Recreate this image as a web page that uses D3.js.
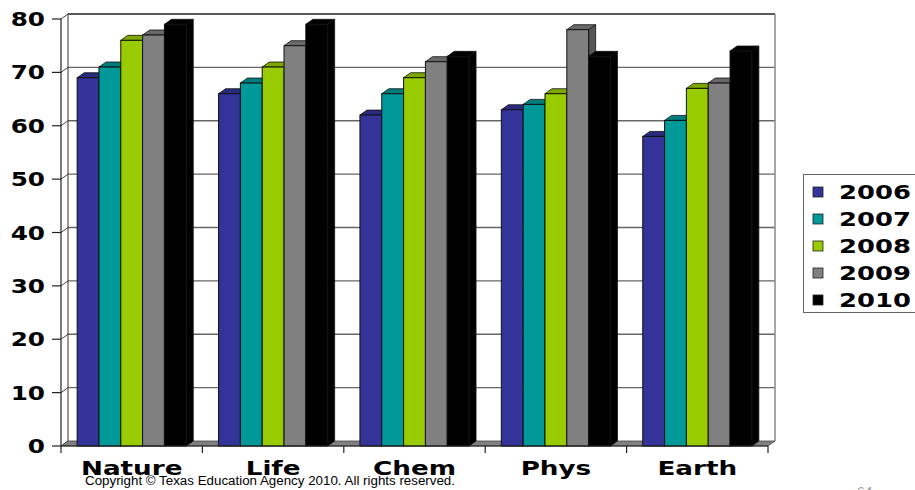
<!DOCTYPE html>
<html>
<head>
<meta charset="utf-8">
<script src="https://cdn.jsdelivr.net/npm/d3@7"></script>
<style>
  html, body { margin: 0; padding: 0; background: #fff; }
  svg { display: block; }
</style>
</head>
<body>
<svg id="chart" width="915" height="490"></svg>
<script>
// Passing rates by course, 2006-2010
const categories = ["Nature", "Life", "Chem", "Phys", "Earth"];
const years = ["2006", "2007", "2008", "2009", "2010"];
const yearColors = ["#333399", "#009999", "#99cc00", "#808080", "#000000"];
const values2006 = [69, 66, 62, 63, 58];
const values2007 = [71, 68, 66, 64, 61];
const values2008 = [76, 71, 69, 66, 67];
const values2009 = [77, 75, 72, 78, 68];
const values2010 = [79, 79, 73, 73, 74];
const yTicks = [0, 10, 20, 30, 40, 50, 60, 70, 80];

const series = [values2006, values2007, values2008, values2009, values2010];

const svg = d3.select("#chart");

// 3D depth offset of the back wall relative to the front plane
const DX = 7, DY = -5;
const left = 61, right = 768, baseY = 446, topY = 19;

const x0 = d3.scaleBand().domain(categories).range([left, right]).padding(0);
const x1 = d3.scaleBand().domain(years).range([0, x0.bandwidth()])
  .paddingInner(0).paddingOuter(0.74);
const y = d3.scaleLinear().domain([0, 80]).range([baseY, topY]);
const color = d3.scaleOrdinal().domain(years).range(yearColors);

// stretched bold text helper
function boldText(g, txt, x, yy, anchor, size, sx) {
  return g.append("text")
    .attr("transform", `translate(${x},${yy}) scale(${sx},1)`)
    .attr("text-anchor", anchor)
    .attr("font-family", "DejaVu Sans, Verdana, sans-serif")
    .attr("font-weight", "bold")
    .attr("font-size", size)
    .attr("fill", "#000")
    .text(txt);
}

// back wall
const wall = svg.append("g");
wall.append("rect")
  .attr("x", left + DX).attr("y", topY + DY)
  .attr("width", right - left).attr("height", baseY - topY)
  .attr("fill", "#fff");

// gridlines on the back wall and the left side wall
yTicks.forEach(t => {
  const yy = y(t);
  if (t > 0) {
    wall.append("line")
      .attr("x1", left + DX).attr("x2", right + DX)
      .attr("y1", yy + DY).attr("y2", yy + DY)
      .attr("stroke", t === 80 ? "#222" : "#666").attr("stroke-width", 1.3);
  }
  wall.append("line")
    .attr("x1", left).attr("x2", left + DX)
    .attr("y1", yy).attr("y2", yy + DY)
    .attr("stroke", "#444").attr("stroke-width", 1);
});
// wall right edge and left edges
wall.append("line")
  .attr("x1", right + DX).attr("x2", right + DX)
  .attr("y1", topY + DY).attr("y2", baseY + DY)
  .attr("stroke", "#888").attr("stroke-width", 1.5);
wall.append("line")
  .attr("x1", left + DX).attr("x2", left + DX)
  .attr("y1", topY + DY).attr("y2", baseY + DY)
  .attr("stroke", "#333").attr("stroke-width", 1);

// floor
svg.append("path")
  .attr("d", `M${left},${baseY} L${right},${baseY} L${right + DX},${baseY + DY} L${left + DX},${baseY + DY} Z`)
  .attr("fill", "#808080").attr("stroke", "#444").attr("stroke-width", 0.8);

// bars
const bars = svg.append("g");
categories.forEach((cat, ci) => {
  years.forEach((yr, si) => {
    const v = series[si][ci];
    const bx = x0(cat) + x1(yr);
    const bw = x1.bandwidth();
    const yt = y(v);
    const base = d3.color(color(yr));
    const sideCol = d3.color(yr === "2010" ? "#000" : base.darker(1.1)).formatHex();
    const topCol = d3.color(yr === "2010" ? "#000" : base.darker(0.55)).formatHex();
    const edge = "#111";
    // side face
    bars.append("path")
      .attr("d", `M${bx + bw},${yt} L${bx + bw + DX},${yt + DY} L${bx + bw + DX},${baseY + DY} L${bx + bw},${baseY} Z`)
      .attr("fill", sideCol).attr("stroke", edge).attr("stroke-width", 0.8);
    // top face
    bars.append("path")
      .attr("d", `M${bx},${yt} L${bx + DX},${yt + DY} L${bx + bw + DX},${yt + DY} L${bx + bw},${yt} Z`)
      .attr("fill", topCol).attr("stroke", edge).attr("stroke-width", 0.8);
    // front face
    bars.append("rect")
      .attr("x", bx).attr("y", yt)
      .attr("width", bw).attr("height", baseY - yt)
      .attr("fill", base.formatHex()).attr("stroke", edge).attr("stroke-width", 1);
  });
});

// front axes
const axes = svg.append("g");
axes.append("line")
  .attr("x1", left).attr("x2", left).attr("y1", topY).attr("y2", baseY)
  .attr("stroke", "#222").attr("stroke-width", 1.2);
axes.append("line")
  .attr("x1", left).attr("x2", right).attr("y1", baseY).attr("y2", baseY)
  .attr("stroke", "#222").attr("stroke-width", 1.2);
yTicks.forEach(t => {
  axes.append("line")
    .attr("x1", left - 9).attr("x2", left).attr("y1", y(t)).attr("y2", y(t))
    .attr("stroke", "#222").attr("stroke-width", 1.2);
  boldText(axes, String(t), 45, y(t) + 7, "end", 19, 1.3);
});
const catTicks = categories.map(c => x0(c)).concat([right]);
catTicks.forEach(tx => {
  axes.append("line")
    .attr("x1", tx).attr("x2", tx).attr("y1", baseY).attr("y2", baseY + 7)
    .attr("stroke", "#222").attr("stroke-width", 1.2);
});
categories.forEach(c => {
  boldText(axes, c, x0(c) + x0.bandwidth() / 2, 475, "middle", 19, 1.38);
});

// legend
const legend = svg.append("g");
legend.append("rect")
  .attr("x", 803.5).attr("y", 174.5).attr("width", 130).attr("height", 138)
  .attr("fill", "#fff").attr("stroke", "#666").attr("stroke-width", 1);
years.forEach((yr, i) => {
  const cy = 192 + i * 27;
  legend.append("rect")
    .attr("x", 813).attr("y", cy - 5).attr("width", 10).attr("height", 10)
    .attr("fill", color(yr)).attr("stroke", "#222").attr("stroke-width", 0.8);
  boldText(legend, yr, 839, cy + 7, "start", 19, 1.36);
});

// footer
svg.append("text")
  .attr("x", 85).attr("y", 485)
  .attr("font-family", "Liberation Sans, Arial, sans-serif")
  .attr("font-size", 12)
  .attr("textLength", 370).attr("lengthAdjust", "spacingAndGlyphs")
  .attr("fill", "#000")
  .text("Copyright © Texas Education Agency 2010. All rights reserved.");
svg.append("text")
  .attr("x", 856).attr("y", 497)
  .attr("font-family", "Liberation Sans, Arial, sans-serif")
  .attr("font-style", "italic")
  .attr("font-size", 14)
  .attr("fill", "#999")
  .text("64");
</script>
</body>
</html>
